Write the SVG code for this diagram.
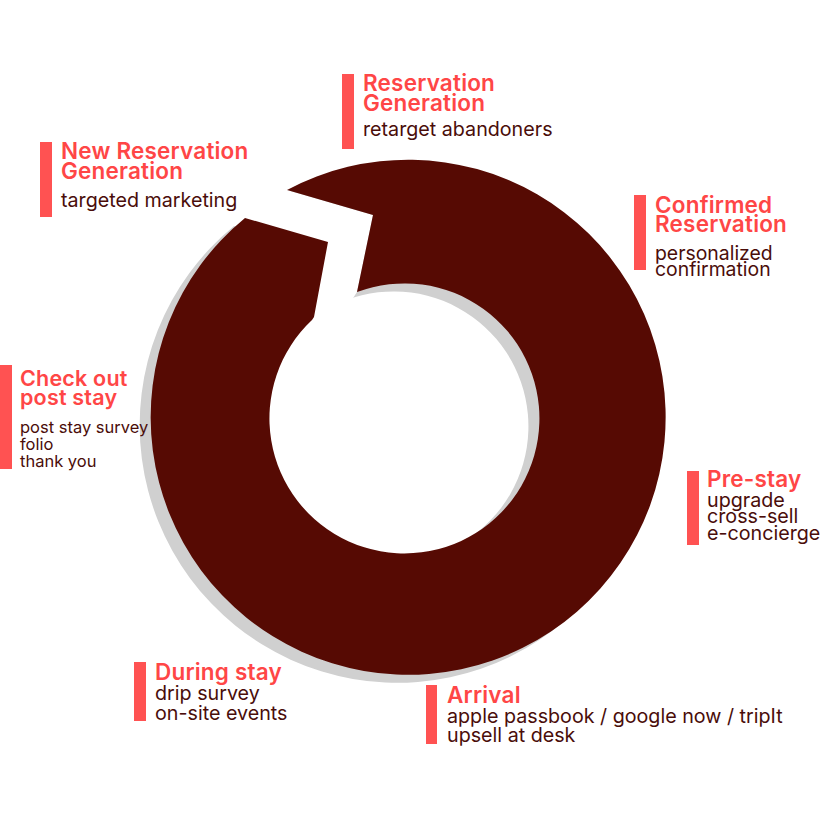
<svg xmlns="http://www.w3.org/2000/svg" width="833" height="833" viewBox="0 0 833 833">
<style>
.bar{fill:#FF5252}
.t{font-family:Inter,"Liberation Sans",sans-serif;font-weight:600;font-size:22.5px;letter-spacing:0.2px;fill:#FF4646}
.s{font-family:Inter,"Liberation Sans",sans-serif;font-weight:400;font-size:19.7px;fill:#4A0D0A}
.ring{fill:#560A03}
.shadow{fill:#D0D0D0}
</style>
<defs>
<path id="ringShape" d="M 287 190 A 257.5 257.5 0 1 1 245 218 L 328 242 L 314 317 L 312 320 A 135 135 0 1 0 357 292 L 373 215 Z"/>
</defs>
<rect width="833" height="833" fill="#FFFFFF"/>
<g id="ring">
<use href="#ringShape" class="shadow" transform="translate(-11,8)"/>
<polygon points="245,218 231,198 280,169 287,190 373,215 357,292 348,306 318,326 312,320 314,317 328,242" fill="#FFFFFF"/>
<use href="#ringShape" class="ring"/>
</g>
<g id="connectors"/>
<g id="new-reservation-generation">
<rect class="bar" x="40" y="142" width="12" height="75"/>
<text class="t" x="61" y="159">New Reservation</text>
<text class="t" x="61" y="178.5">Generation</text>
<text class="s" x="61" y="206.5">targeted marketing</text>
</g>
<g id="reservation-generation">
<rect class="bar" x="342" y="74" width="12" height="75"/>
<text class="t" x="363" y="91">Reservation</text>
<text class="t" x="363" y="110.5">Generation</text>
<text class="s" x="363" y="136">retarget abandoners</text>
</g>
<g id="confirmed-reservation">
<rect class="bar" x="634" y="195" width="12" height="75"/>
<text class="t" x="655" y="212.5">Confirmed</text>
<text class="t" x="655" y="232">Reservation</text>
<text class="s" x="655" y="259.5" style="font-size:19.4px">personalized</text>
<text class="s" x="655" y="275.5" style="font-size:19.4px">confirmation</text>
</g>
<g id="pre-stay">
<rect class="bar" x="687" y="471" width="12" height="74"/>
<text class="t" x="707" y="486.5">Pre-stay</text>
<text class="s" x="707" y="506.5">upgrade</text>
<text class="s" x="707" y="523.3">cross-sell</text>
<text class="s" x="707" y="540">e-concierge</text>
</g>
<g id="arrival">
<rect class="bar" x="426" y="685" width="11" height="59"/>
<text class="t" x="447" y="703">Arrival</text>
<text class="s" x="447" y="723">apple passbook / google now / tripIt</text>
<text class="s" x="447" y="741.5">upsell at desk</text>
</g>
<g id="during-stay">
<rect class="bar" x="134" y="662" width="12" height="59"/>
<text class="t" x="155" y="680">During stay</text>
<text class="s" x="155" y="700">drip survey</text>
<text class="s" x="155" y="719.5">on-site events</text>
</g>
<g id="check-out-post-stay">
<rect class="bar" x="0" y="365" width="12" height="104"/>
<text class="t" x="20" y="385.5" style="font-size:21.5px">Check out</text>
<text class="t" x="20" y="405" style="font-size:21.5px">post stay</text>
<text class="s" x="20" y="433.3" style="font-size:16.5px">post stay survey</text>
<text class="s" x="20" y="450" style="font-size:16.5px">folio</text>
<text class="s" x="20" y="466.7" style="font-size:16.5px">thank you</text>
</g>
</svg>
